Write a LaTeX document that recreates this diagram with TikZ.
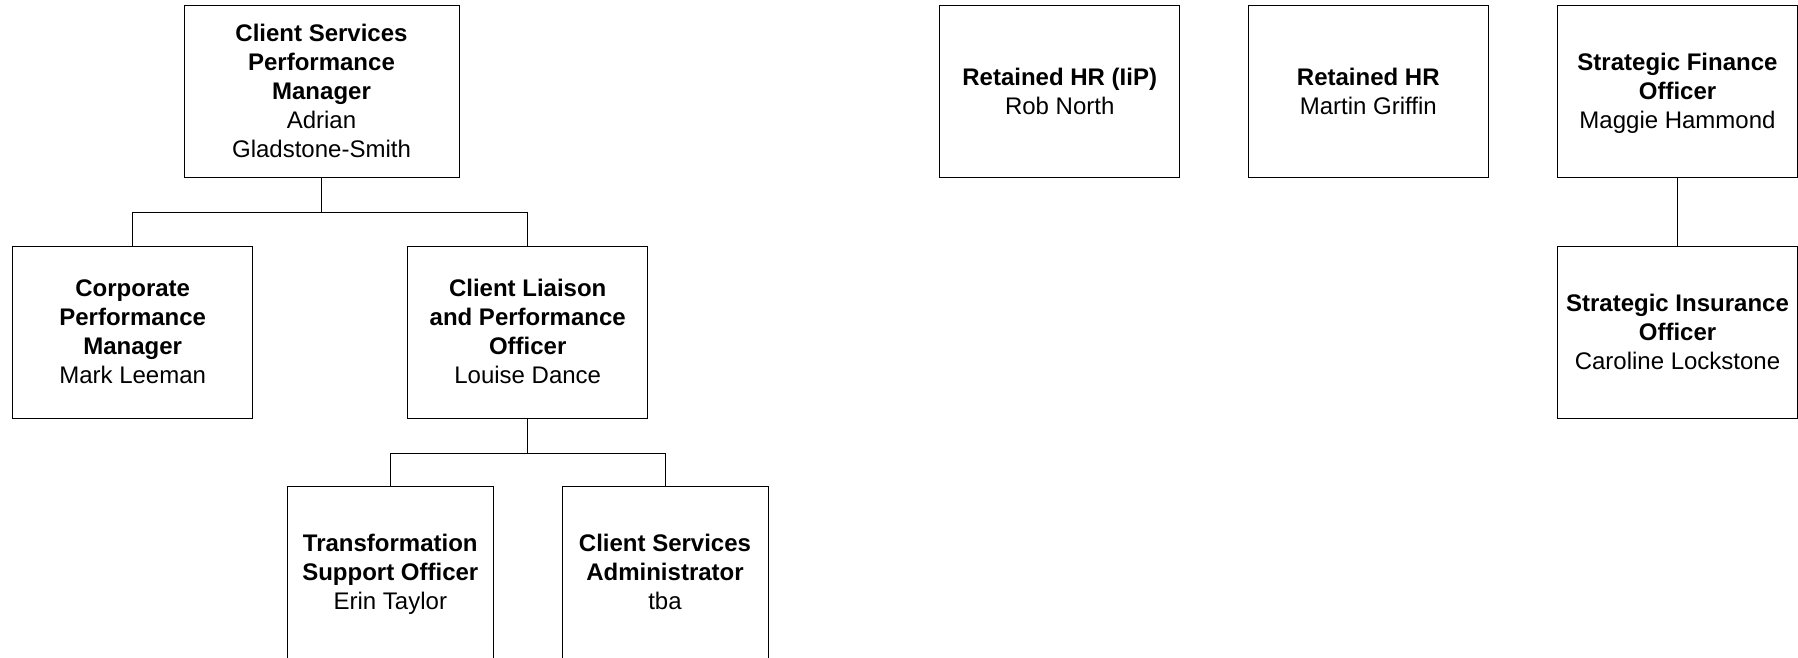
\documentclass[tikz,border=0pt]{standalone}
\usepackage{fontspec}
\setmainfont{Liberation Sans}

\tikzset{
  post/.style={draw, line width=1pt, minimum width=240pt, minimum height=171.7pt,
    inner sep=0pt, align=center, font=\fontsize{24}{29}\selectfont,
    text depth=1.5pt},
  link/.style={line width=1pt}
}

\begin{document}
\begin{tikzpicture}[x=1pt,y=-1pt]
  \useasboundingbox (0,0) rectangle (1798,658);
  \clip (0,0) rectangle (1798,658);

  % client services team
  \node[post, minimum width=275pt] (csm) at (321.5,91.85)
    {\textbf{Client Services}\\\textbf{Performance}\\\textbf{Manager}\\Adrian\\Gladstone-Smith};
  \node[post] (cpm) at (132.7,332.55)
    {\textbf{Corporate}\\\textbf{Performance}\\\textbf{Manager}\\Mark Leeman};
  \node[post] (clp) at (527.7,332.55)
    {\textbf{Client Liaison}\\\textbf{and Performance}\\\textbf{Officer}\\Louise Dance};
  \node[post, minimum width=206pt] (tso) at (390.3,572.55)
    {\textbf{Transformation}\\\textbf{Support Officer}\\Erin Taylor};
  \node[post, minimum width=206pt] (csa) at (665,572.55)
    {\textbf{Client Services}\\\textbf{Administrator}\\tba};

  \draw[link] (csm.south) -- ++(0,34.3) -| (cpm.north);
  \draw[link] (csm.south) -- ++(0,34.3) -| (clp.north);
  \draw[link] (clp.south) -- ++(0,34.3) -| (tso.north);
  \draw[link] (clp.south) -- ++(0,34.3) -| (csa.north);

  % retained and strategic posts
  \node[post] (hrip) at (1059.7,91.85) {\textbf{Retained HR (IiP)}\\Rob North};
  \node[post] (hr) at (1368.3,91.85) {\textbf{Retained HR}\\Martin Griffin};
  \node[post, minimum width=239.6pt] (sfo) at (1677.5,91.85)
    {\textbf{Strategic Finance}\\\textbf{Officer}\\Maggie Hammond};
  \node[post, minimum width=239.6pt] (sio) at (1677.5,332.55)
    {\textbf{Strategic Insurance}\\\textbf{Officer}\\Caroline Lockstone};

  \draw[link] (sfo) -- (sio);
\end{tikzpicture}
\end{document}
